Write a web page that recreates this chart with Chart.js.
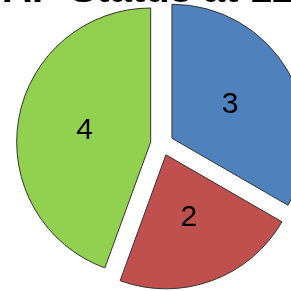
<!DOCTYPE html>
<html>
<head>
<meta charset="utf-8">
<script src="https://cdn.jsdelivr.net/npm/chart.js@4/dist/chart.umd.min.js"></script>
<style>
    html, body { margin: 0; padding: 0; background: #ffffff; overflow: hidden; width: 291px; height: 291px; }
    #wrap { position: absolute; left: 3px; top: -31px; width: 318px; height: 330px; }
</style>
</head>
<body>
<div id="wrap"><canvas id="pieChart"></canvas></div>
<script>
var labels = ['Open', 'Pending', 'Closed'];
var counts = [3, 2, 4];
var sliceColors = ['#4F81BD', '#C0504D', '#92D050'];
var chartTitle = 'AP Status at 12';

var EXPLODE = 11.5;

// push every slice out from the centre along its middle angle
var explodePlugin = {
    id: 'explode',
    afterDatasetUpdate: function(chart, args) {
        args.meta.data.forEach(function(arc) {
            var mid = (arc.startAngle + arc.endAngle) / 2;
            arc.x += Math.cos(mid) * EXPLODE;
            arc.y += Math.sin(mid) * EXPLODE;
        });
    }
};

// value labels in the middle of each slice
var valueLabelPlugin = {
    id: 'valueLabels',
    afterDatasetsDraw: function(chart) {
        var ctx = chart.ctx;
        var meta = chart.getDatasetMeta(0);
        ctx.save();
        ctx.font = '30px "Liberation Sans", Arial, sans-serif';
        ctx.fillStyle = '#000000';
        ctx.textAlign = 'center';
        ctx.textBaseline = 'middle';
        meta.data.forEach(function(arc, i) {
            var p = arc.getCenterPoint();
            ctx.fillText(String(chart.data.datasets[0].data[i]), p.x, p.y);
        });
        ctx.restore();
    }
};

var ctx1 = document.getElementById('pieChart').getContext('2d');
window.myChart1 = new Chart(ctx1, {
    type: 'pie',
    data: {
        labels: labels,
        datasets: [{
            data: counts,
            backgroundColor: sliceColors,
            borderColor: '#333333',
            borderWidth: 1
        }]
    },
    options: {
        responsive: true,
        maintainAspectRatio: false,
        animation: false,
        radius: 134,
        layout: { padding: { bottom: 28 } },
        plugins: {
            title: {
                display: true,
                text: chartTitle,
                align: 'start',
                color: '#000000',
                padding: { top: -2, bottom: 2 },
                font: {
                    family: '"Liberation Sans", Arial, sans-serif',
                    size: 40,
                    weight: 'bold'
                }
            },
            legend: { display: false },
            tooltip: { enabled: false }
        }
    },
    plugins: [explodePlugin, valueLabelPlugin]
});
</script>
</body>
</html>
